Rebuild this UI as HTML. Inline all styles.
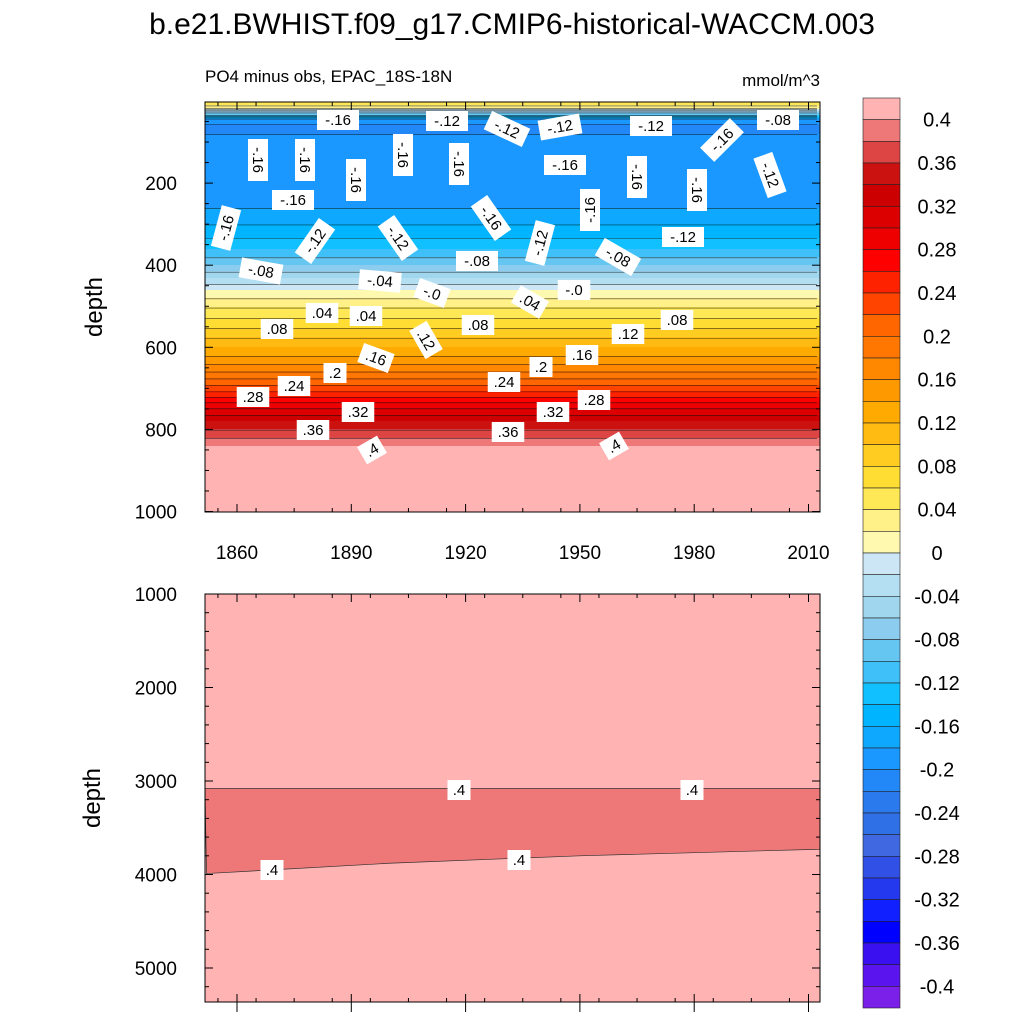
<!DOCTYPE html>
<html><head><meta charset="utf-8">
<style>
body{margin:0;background:#fff;}
svg text{font-family:"Liberation Sans",Arial,sans-serif;}
</style></head>
<body>
<svg id="chart" width="1024" height="1024" viewBox="0 0 1024 1024" xmlns="http://www.w3.org/2000/svg">
<text x="512" y="34" font-size="30" text-anchor="middle">b.e21.BWHIST.f09_g17.CMIP6-historical-WACCM.003</text>
<text x="205" y="82" font-size="17">PO4 minus obs, EPAC_18S-18N</text>
<text x="820" y="86" font-size="17" text-anchor="end">mmol/m^3</text>
<g id="topPanel"></g>
<g id="botPanel"></g>
<g id="cbar"></g>
<text transform="translate(102,307) rotate(-90)" font-size="24" text-anchor="middle">depth</text>
<text transform="translate(100,798) rotate(-90)" font-size="24" text-anchor="middle">depth</text>
</svg>
<script>
// ---- data ----
const levels = [];
for (let i = 0; i <= 40; i++) levels.push(+(-0.4 + i*0.02).toFixed(2));
const colors = ["#7A20E8","#5A14EE","#3A10F0","#0000FF","#1020FF","#2438EE","#3050E6","#4068E0","#3070E6","#2A7AEE","#2288F8","#1A98FF","#0FA8FF","#00B4FF","#11C0FF","#3FC0F8","#66C6F2","#8CCCEE","#A0D6EE","#B4DEF2","#CCE6F5","#FFF9B0","#FFF088","#FFE855","#FFDD33","#FFCC22","#FFBB11","#FFAA00","#FF9900","#FF8800","#FF7700","#FF6600","#FF4400","#FF2200","#FF0000","#EE0000","#DD0000","#CC0000","#CC1111","#DD4444","#EE7878","#FFB3B3"];
const cbarLabels = ["0.4","0.36","0.32","0.28","0.24","0.2","0.16","0.12","0.08","0.04","0","-0.04","-0.08","-0.12","-0.16","-0.2","-0.24","-0.28","-0.32","-0.36","-0.4"];
const profDepth = [0,15,30,45,60,100,250,320,360,400,430,460,490,540,600,650,700,740,780,810,840,870,1000];
const profValue = [0.06,0.03,-0.08,-0.18,-0.21,-0.19,-0.185,-0.15,-0.12,-0.08,-0.04,0.0,0.03,0.07,0.12,0.17,0.23,0.29,0.34,0.37,0.40,0.43,0.45];
const xTicks = [1860,1890,1920,1950,1980,2010];
const yTicksTop = [200,400,600,800,1000];
const yTicksBot = [1000,2000,3000,4000,5000];
const bandTopDepth = 3080;
const bandBotYears = [1852,1900,1950,2013];
const bandBotDepth = [3990,3880,3800,3730];
const labelsTop = [
 ["-.16",338,120,0],["-.12",447,121,0],["-.12",507,129,25],["-.12",560,127,-10],["-.12",651,126,0],["-.16",722,140,-45],["-.08",778,120,0],
 ["-.16",258,160,90],["-.16",305,160,90],["-.16",403,155,90],["-.16",459,164,90],["-.16",356,180,90],["-.16",565,165,0],["-.16",590,210,-90],["-.16",637,177,90],["-.16",697,190,90],["-.12",770,175,70],
 ["-.16",293,200,0],["-.16",226,228,-75],["-.12",315,241,-55],["-.12",398,238,55],["-.16",491,218,55],["-.12",540,243,-75],["-.12",683,237,0],["-.08",618,257,30],
 ["-.08",261,271,10],["-.08",477,261,0],["-.04",380,281,5],["-.0",432,293,20],[".04",530,302,30],["-.0",574,290,0],
 [".08",277,329,0],[".04",322,313,0],[".04",366,316,0],[".12",426,340,60],[".08",478,325,0],[".12",628,334,0],[".08",677,320,0],
 [".16",376,358,20],[".2",335,373,0],[".2",541,367,0],[".16",582,355,0],[".24",294,386,0],[".24",504,382,0],[".28",253,397,0],[".28",594,400,0],
 [".32",358,412,0],[".32",553,412,0],[".36",313,430,0],[".36",508,432,0],[".4",372,450,-30],[".4",614,446,-30]
];
const labelsBot = [[".4",459,790],[".4",692,790],[".4",272,870],[".4",519,860]];

const NS = "http://www.w3.org/2000/svg";
function mk(tag, attrs, parent){const e=document.createElementNS(NS,tag);for(const k in attrs)e.setAttribute(k,attrs[k]);parent.appendChild(e);return e;}
const X0=205,X1=820;
const xScale = yr => 237 + (yr-1860)*(114.3/30);
const yTop = d => 101 + d*0.4105;
const yBot = d => 594 + (d-1000)*0.0935;
function interp(d){for(let i=1;i<profDepth.length;i++){if(d<=profDepth[i]){const t=(d-profDepth[i-1])/(profDepth[i]-profDepth[i-1]);return profValue[i-1]+t*(profValue[i]-profValue[i-1]);}}return profValue[profValue.length-1];}
function colorFor(v){let k=0;while(k<levels.length&&v>=levels[k])k++;return colors[k];}

const topG=document.getElementById('topPanel');
const PT=102,PB=512;
for(let y=PT;y<PB;y++){const d=(y+0.5-101)/0.4105;const r=mk('rect',{x:X0,y:y,width:X1-X0,height:1.2,fill:colorFor(interp(d))},topG);

}
for(let i=0;i<levels.length;i++){const L=levels[i];
 for(let j=1;j<profDepth.length;j++){const a=profValue[j-1],b=profValue[j];
  if((a-L)*(b-L)<0){const d=profDepth[j-1]+(L-a)/(b-a)*(profDepth[j]-profDepth[j-1]);const y=yTop(d);
   let path="M"+X0+" "+y;for(let x=X0;x<=X1;x+=6){path+=" L"+x+" "+(y+((x/6)%2?0.8:-0.8));}
   const p=mk('path',{d:path,stroke:"#111",'stroke-width':0.6,fill:"none",opacity:0.8},topG);
   
   }}}
function addLabel(g,t,x,y,rot){const gg=mk('g',{transform:`translate(${x},${y}) rotate(${rot})`},g);
 
 
 const w=t.length*9.5+4;mk('rect',{x:-w/2,y:-10,width:w,height:20,fill:"#fff"},gg);
 const tx=mk('text',{x:0,y:5,'font-size':15,'text-anchor':'middle'},gg);tx.textContent=t;}
labelsTop.forEach(l=>addLabel(topG,l[0],l[1],l[2],l[3]));
mk('rect',{x:X0,y:PT,width:X1-X0,height:PB-PT,fill:"none",stroke:"#000",'stroke-width':1},topG);

const botG=document.getElementById('botPanel');
const BT=594,BB=1002;
mk('rect',{x:X0,y:BT,width:X1-X0,height:BB-BT,fill:colors[41]},botG);
let pts=`${X0},${yBot(bandTopDepth)} ${X1},${yBot(bandTopDepth)}`;
for(let i=bandBotYears.length-1;i>=0;i--){pts+=` ${Math.min(X1,Math.max(X0,xScale(bandBotYears[i])))},${yBot(bandBotDepth[i])}`;}
const band=mk('polygon',{points:pts,fill:colors[40],stroke:"#333",'stroke-width':0.7},botG);


labelsBot.forEach(l=>addLabel(botG,l[0],l[1],l[2],0));
mk('rect',{x:X0,y:BT,width:X1-X0,height:BB-BT,fill:"none",stroke:"#000",'stroke-width':1},botG);

function ticks(g,pt,pb,yfn,yt){
 xTicks.forEach(yr=>{const x=xScale(yr);
  mk('line',{x1:x,x2:x,y1:pb,y2:pb-8,stroke:"#000"},g);mk('line',{x1:x,x2:x,y1:pt,y2:pt+8,stroke:"#000"},g);});
 for(let yr=1855;yr<=2010;yr+=10){if((yr-1860)%30===0)continue;const x=xScale(yr);
  mk('line',{x1:x,x2:x,y1:pb,y2:pb-4,stroke:"#000"},g);mk('line',{x1:x,x2:x,y1:pt,y2:pt+4,stroke:"#000"},g);}
 yt.forEach(d=>{const y=yfn(d);if(y<pt-1||y>pb+1)return;
  mk('line',{x1:X0,x2:X0+8,y1:y,y2:y,stroke:"#000"},g);mk('line',{x1:X1,x2:X1-8,y1:y,y2:y,stroke:"#000"},g);
  const t=mk('text',{x:X0-28,y:y+7,'font-size':19,'text-anchor':'end'},g);t.textContent=d;
  
  });
}
ticks(topG,PT,PB,yTop,yTicksTop);
for(let d=50;d<1000;d+=50){const y=yTop(d);if(d%200===0)continue;mk('line',{x1:X0,x2:X0+4,y1:y,y2:y,stroke:"#000"},topG);mk('line',{x1:X1,x2:X1-4,y1:y,y2:y,stroke:"#000"},topG);}
ticks(botG,BT,BB,yBot,yTicksBot);
for(let d=1200;d<5400;d+=200){if(d%1000===0)continue;const y=yBot(d);mk('line',{x1:X0,x2:X0+4,y1:y,y2:y,stroke:"#000"},botG);mk('line',{x1:X1,x2:X1-4,y1:y,y2:y,stroke:"#000"},botG);}
xTicks.forEach(yr=>{const t=mk('text',{x:xScale(yr),y:559,'font-size':19,'text-anchor':'middle'},topG);t.textContent=yr;
 
 });
xTicks.forEach(yr=>{const x=xScale(yr);mk('line',{x1:x,x2:x,y1:BB,y2:BB+10,stroke:"#000"},botG);});

const cb=document.getElementById('cbar');
const CX=863,CW=37,CT=98,CB=1008,bh=(CB-CT)/colors.length;
for(let k=0;k<colors.length;k++){const r=mk('rect',{x:CX,y:CT+k*bh,width:CW,height:bh,fill:colors[colors.length-1-k],stroke:"#222",'stroke-width':0.6},cb);
 
 }
cbarLabels.forEach((t,i)=>{const y=CT+bh*(1+2*i);const tx=mk('text',{x:937,y:y+7,'font-size':20,'text-anchor':'middle'},cb);tx.textContent=t;
 
 });
</script>
</body></html>
